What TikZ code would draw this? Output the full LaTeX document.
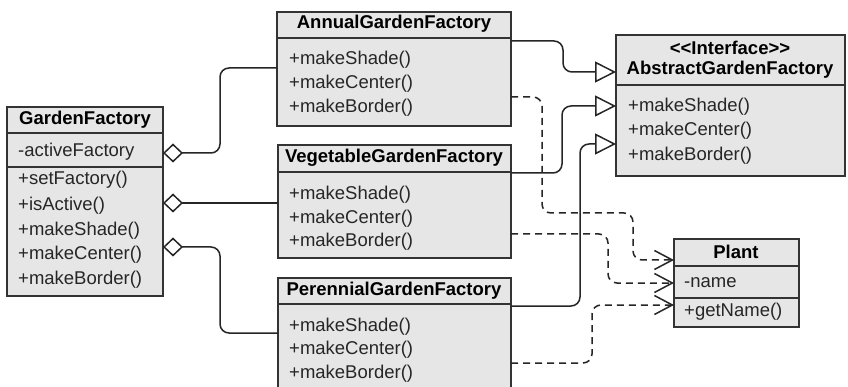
\documentclass[tikz,border=0pt]{standalone}
\usepackage{fontspec}
\setmainfont{Liberation Sans}
\usetikzlibrary{arrows.meta}
\definecolor{boxfill}{HTML}{E6E6E6}
\definecolor{boxline}{HTML}{333333}
\begin{document}
\begin{tikzpicture}[x=1pt,y=-1pt,
  cls/.style={draw=boxline, fill=boxfill, line width=1.7pt},
  divline/.style={draw=boxline, line width=1.7pt},
  hdr/.style={inner sep=0pt, font=\fontsize{18.5}{22}\selectfont\bfseries, text=black},
  item/.style={inner sep=0pt, anchor=west, font=\fontsize{18.5}{22}\selectfont, text=black!85},
  conn/.style={draw=black!85, line width=1.5pt, rounded corners=9pt},
  agg/.style={conn, {Diamond[open, length=20pt, width=19pt, line width=1.5pt]}-},
  gen/.style={conn, -{Triangle[open, length=21pt, width=21pt, line width=1.5pt]}},
  dep/.style={conn, dash pattern=on 7pt off 5pt, -{Straight Barb[length=18pt, width=19pt, line width=1.5pt]}}
]
\clip (0,0) rectangle (848,387);
\fill[white] (0,0) rectangle (848,387);

% GardenFactory
\draw[cls] (7,107) rectangle (163,296);
\draw[divline] (7,133) -- (163,133);
\draw[divline] (7,167) -- (163,167);
\node[hdr] (gf) at (85,120) {GardenFactory};
\node[item] (gfa) at (18,152) {-activeFactory};
\node[item] (gfm1) at (18,180) {+setFactory()};
\node[item] (gfm2) at (18,206) {+isActive()};
\node[item] (gfm3) at (18,231) {+makeShade()};
\node[item] (gfm4) at (18,255) {+makeCenter()};
\node[item] (gfm5) at (18,280) {+makeBorder()};

% AnnualGardenFactory
\draw[cls] (277,12) rectangle (511,126);
\draw[divline] (277,38) -- (511,38);
\node[hdr] (agf) at (394,24) {AnnualGardenFactory};
\node[item] (agf1) at (289,60) {+makeShade()};
\node[item] (agf2) at (289,84) {+makeCenter()};
\node[item] (agf3) at (289,108) {+makeBorder()};

% VegetableGardenFactory
\draw[cls] (278,145) rectangle (511,258);
\draw[divline] (278,172) -- (511,172);
\node[hdr] (vgf) at (394,158) {VegetableGardenFactory};
\node[item] (vgf1) at (289,195) {+makeShade()};
\node[item] (vgf2) at (289,219) {+makeCenter()};
\node[item] (vgf3) at (289,242) {+makeBorder()};

% PerennialGardenFactory
\draw[cls] (278,278) rectangle (511,396);
\draw[divline] (278,304) -- (511,304);
\node[hdr] (pgf) at (394,291) {PerennialGardenFactory};
\node[item] (pgf1) at (289,327) {+makeShade()};
\node[item] (pgf2) at (289,350) {+makeCenter()};
\node[item] (pgf3) at (289,374) {+makeBorder()};

% AbstractGardenFactory
\draw[cls] (616,35) rectangle (845,176);
\draw[divline] (616,85) -- (845,85);
\node[hdr] (abs1) at (730,48) {{<}{<}Interface{>}{>}};
\node[hdr] (abs2) at (730,70) {AbstractGardenFactory};
\node[item] (abs3) at (628,107) {+makeShade()};
\node[item] (abs4) at (628,131) {+makeCenter()};
\node[item] (abs5) at (628,156) {+makeBorder()};

% Plant
\draw[cls] (674,239) rectangle (799,327);
\draw[divline] (674,266) -- (799,266);
\draw[divline] (674,298) -- (799,298);
\node[hdr] (pl) at (736,252) {Plant};
\node[item] (pla) at (684,283) {-name};
\node[item] (plm) at (684,312) {+getName()};

% ports
\coordinate (gfp1) at (163,153);
\coordinate (gfp2) at (163,203);
\coordinate (gfp3) at (163,247);
\coordinate (ap) at (277,68);
\coordinate (vp) at (278,203);
\coordinate (pp) at (278,333);
\coordinate (ag) at (511,41);
\coordinate (vg) at (511,173);
\coordinate (pg) at (511,306);
\coordinate (ad) at (511,97);
\coordinate (vd) at (511,234);
\coordinate (pd) at (511,363);
\coordinate (t1) at (616,72);
\coordinate (t2) at (616,106);
\coordinate (t3) at (616,144);
\coordinate (d1) at (674,260);
\coordinate (d2) at (674,283);
\coordinate (d3) at (674,305);

% aggregations
\draw[agg] (gfp1) -- (220,153) -- (220,68) -- (ap);
\draw[agg] (gfp2) -- (vp);
\draw[agg] (gfp3) -- (220,247) -- (220,333) -- (pp);

% generalizations
\draw[gen] (ag) -- (563,41) -- (563,72) -- (t1);
\draw[gen] (vg) -- (562,173) -- (562,106) -- (t2);
\draw[gen] (pg) -- (580,306) -- (580,144) -- (t3);

% dependencies
\draw[dep] (ad) -- (542,97) -- (542,213) -- (633,213) -- (633,260) -- (d1);
\draw[dep] (vd) -- (608,234) -- (608,283) -- (d2);
\draw[dep] (pd) -- (592,363) -- (592,305) -- (d3);
\end{tikzpicture}
\end{document}
